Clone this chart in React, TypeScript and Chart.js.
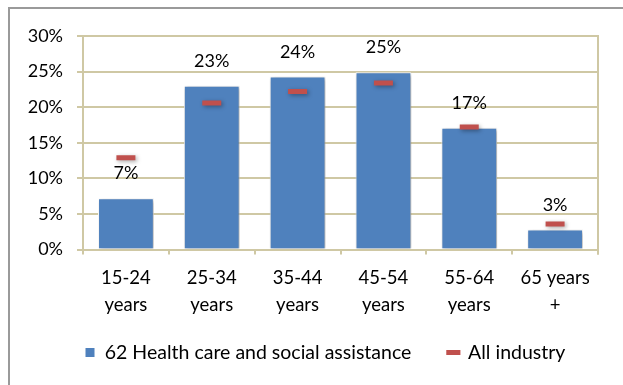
import React, { useEffect, useRef } from 'react';
import { Chart, registerables } from 'chart.js';

Chart.register(...registerables);

const categories: string[][] = [
  ['15-24', 'years'],
  ['25-34', 'years'],
  ['35-44', 'years'],
  ['45-54', 'years'],
  ['55-64', 'years'],
  ['65 years', '+'],
];
const healthCare = [7.2, 23.0, 24.3, 24.9, 17.1, 2.8];
const allIndustry = [12.9, 20.6, 22.2, 23.4, 17.2, 3.6];
const yMin = 0;
const yMax = 30;
const yStep = 5;
const seriesNames = ['62 Health care and social assistance', 'All industry'];

const BEIGE = '#CFC8A4';
const FONT = 'Lato';
const LEGEND_PAD = 37;
const LEGEND_FONT = 19.5;

export default function App() {
  const ref = useRef<HTMLCanvasElement | null>(null);

  useEffect(() => {
    if (!ref.current) return;
    const shadowPlugin = {
      id: 'shadow',
      beforeDatasetDraw(chart: any) {
        const ctx = chart.ctx;
        ctx.save();
        ctx.shadowColor = 'rgba(0,0,0,0.35)';
        ctx.shadowBlur = 4;
        ctx.shadowOffsetX = 1.5;
        ctx.shadowOffsetY = 1.5;
      },
      afterDatasetDraw(chart: any) {
        chart.ctx.restore();
      },
    };
    const framePlugin = {
      id: 'frame',
      beforeDatasetsDraw(chart: any) {
        const { ctx, chartArea } = chart;
        ctx.save();
        ctx.strokeStyle = BEIGE;
        ctx.lineWidth = 2;
        ctx.beginPath();
        ctx.moveTo(chartArea.right, chartArea.top - 1);
        ctx.lineTo(chartArea.right, chartArea.bottom + 5);
        ctx.stroke();
        ctx.restore();
      },
    };
    const legendPlacePlugin = {
      id: 'legendPlace',
      afterLayout(chart: any) {
        const lg = chart.legend;
        if (!lg || !lg.lineWidths) return;
        const W = lg.lineWidths[0];
        const start = (lg.left + LEGEND_PAD + lg.right - W) / 2;
        const dx = 85 - start;
        lg.left += dx;
        lg.right += dx;
        lg.top = 352.5 - LEGEND_PAD - LEGEND_FONT / 2;
      },
    };
    const labelPlugin = {
      id: 'valueLabels',
      afterDatasetsDraw(chart: any) {
        const { ctx } = chart;
        const meta = chart.getDatasetMeta(0);
        ctx.save();
        ctx.font = `18px ${FONT}`;
        ctx.fillStyle = '#000';
        ctx.textAlign = 'center';
        ctx.textBaseline = 'alphabetic';
        meta.data.forEach((el: any, i: number) => {
          ctx.fillText(Math.round(healthCare[i]) + '%', el.x, el.y - 19);
        });
        ctx.restore();
      },
    };

    const chart = new Chart(ref.current, {
      type: 'bar',
      data: {
        labels: categories,
        datasets: [
          {
            type: 'bar',
            label: seriesNames[0],
            data: healthCare,
            backgroundColor: '#4F81BD',
            borderColor: '#FFFFFF',
            borderWidth: 1,
            barPercentage: 0.65,
            categoryPercentage: 1,
            pointStyle: 'rect',
            order: 2,
          } as any,
          {
            type: 'line',
            label: seriesNames[1],
            data: allIndustry,
            showLine: false,
            pointStyle: 'line',
            pointRadius: 9.5,
            pointHoverRadius: 9.5,
            pointBorderWidth: 5,
            pointBorderColor: '#C0504D',
            pointBackgroundColor: '#C0504D',
            borderColor: '#C0504D',
            backgroundColor: '#C0504D',
            borderWidth: 5,
            order: 1,
          } as any,
        ],
      },
      options: {
        responsive: false,
        animation: false,
        events: [],
        layout: { padding: { left: 10, right: 25, top: 36, bottom: 12 } },
        plugins: {
          tooltip: { enabled: false },
          legend: {
            position: 'bottom',
            labels: {
              usePointStyle: true,
              boxWidth: 10,
              boxHeight: 10,
              padding: LEGEND_PAD,
              color: '#000',
              font: { family: FONT, size: LEGEND_FONT },
              sort: (a: any, b: any) => a.datasetIndex - b.datasetIndex,
            },
          },
        },
        scales: {
          x: {
            offset: true,
            grid: {
              display: true,
              drawOnChartArea: false,
              drawTicks: true,
              tickLength: 5,
              color: BEIGE,
              lineWidth: 2,
              offset: true,
            },
            border: { display: true, color: BEIGE, width: 2 },
            ticks: {
              color: '#000',
              font: { family: FONT, size: 18.5, lineHeight: 1.45 },
              padding: 10,
              maxRotation: 0,
              autoSkip: false,
            },
            afterFit: (s: any) => {
              s.height = 72;
            },
          },
          y: {
            min: yMin,
            max: yMax,
            grid: { color: BEIGE, lineWidth: 2, tickLength: 6 },
            border: { display: true, color: BEIGE, width: 2 },
            ticks: {
              stepSize: yStep,
              color: '#000',
              font: { family: FONT, size: 18 },
              padding: 14,
              callback: (v: any) => v + '%',
            },
            afterFit: (s: any) => {
              s.width = 73;
            },
          },
        },
      },
      plugins: [shadowPlugin, framePlugin, legendPlacePlugin, labelPlugin],
    });
    return () => chart.destroy();
  }, []);

  return (
    <div style={{ position: 'fixed', left: 0, top: 0, width: 623, height: 385, overflow: 'hidden', background: '#fff' }}>
      <canvas ref={ref} width={623} height={400} style={{ display: 'block' }} />
      <div
        style={{
          position: 'absolute',
          left: 8,
          top: 7,
          right: -10,
          bottom: -10,
          borderLeft: '2px solid #9A9A9A',
          borderTop: '2px solid #9A9A9A',
          pointerEvents: 'none',
        }}
      />
    </div>
  );
}
